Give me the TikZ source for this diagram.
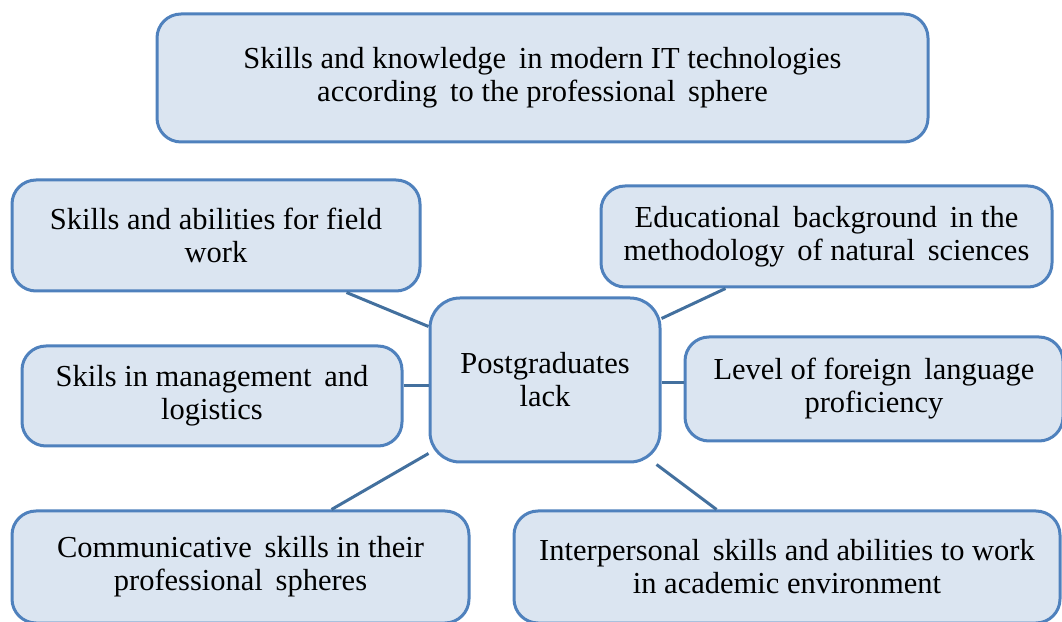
\documentclass[tikz,border=0pt]{standalone}
\usepackage{fontspec}
\setmainfont{Liberation Serif}
\usetikzlibrary{calc}
\definecolor{boxfill}{HTML}{DBE5F1}
\definecolor{boxline}{HTML}{4F81BD}
\definecolor{conn}{HTML}{43709E}
\tikzset{
  box/.style={draw=boxline, fill=boxfill, line width=3pt, rounded corners=24pt,
    align=center, inner sep=0pt, font=\fontsize{30.5}{33}\selectfont},
  link/.style={draw=conn, line width=3pt}
}
\begin{document}
\begin{tikzpicture}[x=1pt,y=1pt]
\useasboundingbox (0,0) rectangle (1062,621);
% nodes (centres in px, y flipped)
\node[box, minimum width=771pt, minimum height=128pt] (top) at (542.5,543) {Skills and knowledge\, in modern IT technologies\\according\, to the professional\, sphere};
\node[box, minimum width=408pt, minimum height=111pt] (field) at (216,385.5) {Skills and abilities for field\\work};
\node[box, minimum width=451pt, minimum height=101pt] (edu) at (826.5,384.5) {Educational\, background\, in the\\methodology\, of natural\, sciences};
\node[box, minimum width=230pt, minimum height=164pt, rounded corners=30pt] (c) at (545,241) {Postgraduates\\lack};
\node[box, minimum width=380pt, minimum height=100pt] (mgmt) at (212,225) {Skils in management\, and\\logistics};
\node[box, minimum width=378pt, minimum height=104pt] (lang) at (874,232) {Level of foreign\, language\\proficiency};
\node[box, minimum width=457pt, minimum height=112pt] (comm) at (240.5,54) {Communicative\, skills in their\\professional\, spheres};
\node[box, minimum width=546pt, minimum height=112pt] (inter) at (787,54) {Interpersonal\, skills and abilities to work\\in academic environment};
% connectors
\draw[link] ($(top.south)+(1.5,0)$) -- ($(top.south)+(1.5,0)$ |- c.north);
\draw[link] ($(field.south east)+(-75,0)$) -- ($(c.north west)+(0,-30)$);
\draw[link] ($(edu.south west)+(126,0)$) -- ($(c.north east)+(0,-22)$);
\draw[link] ($(mgmt.east)+(0,10)$) -- ($(c.west)+(0,-6)$);
\draw[link] ($(c.east)+(0,-3)$) -- ($(lang.west)+(0,6)$);
\draw[link] ($(comm.north west)+(321,0)$) -- ($(c.south west)+(0,10)$);
\draw[link] ($(inter.north west)+(204,0)$) -- ($(c.south east)+(-5,-1)$);
\end{tikzpicture}
\end{document}
